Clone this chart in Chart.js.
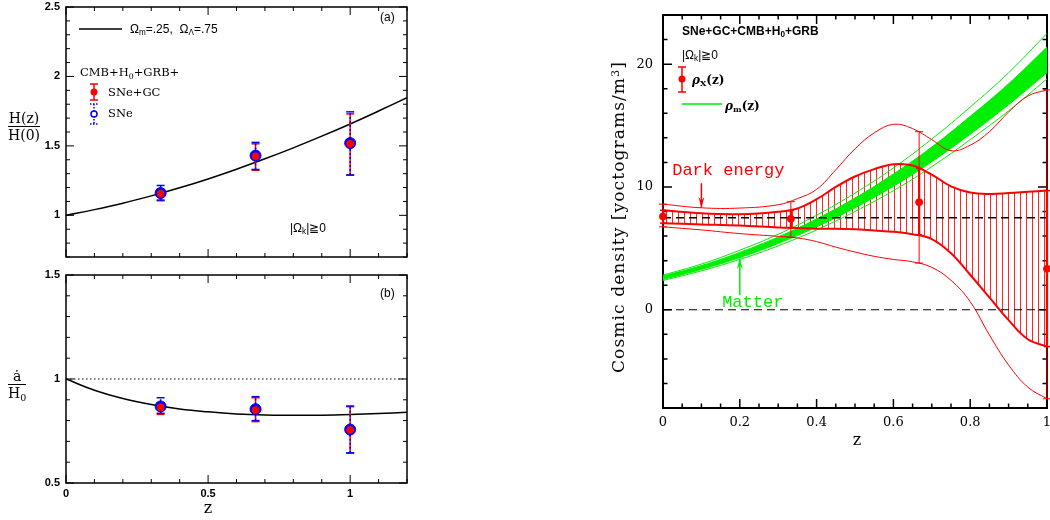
<!DOCTYPE html>
<html>
<head>
<meta charset="utf-8">
<script src="https://cdn.jsdelivr.net/npm/chart.js@4.4.1/dist/chart.umd.min.js"></script>
<style>
  html, body { margin: 0; padding: 0; background: #fff; }
  body { width: 1050px; height: 520px; position: relative; overflow: hidden;
         font-family: "Liberation Sans", Arial, sans-serif; color: #000; }
  canvas { position: absolute; }
  .t { position: absolute; white-space: nowrap; line-height: 1; transform: translateY(-50%); }
  .c { transform: translate(-50%, -50%); }
  .serif { font-family: "DejaVu Serif", serif; }
  sub { font-size: 68%; vertical-align: -0.3em; line-height: 0; }
  sup { font-size: 65%; vertical-align: 0.45em; line-height: 0; }
  .frac { position: absolute; text-align: center; line-height: 1.05; }
  .frac .den { border-top: 1px solid #000; padding-top: 1px; }
  .ytitle { position: absolute; white-space: nowrap; font-size: 17px; letter-spacing: 1.1px;
            transform: translate(-50%, -50%) rotate(-90deg); }
</style>
</head>
<body>
<canvas id="hubble" width="420" height="265" style="left:0;top:0"></canvas>
<canvas id="adot" width="420" height="258" style="left:0;top:262px"></canvas>
<canvas id="rho" width="450" height="460" style="left:600px;top:0"></canvas>

<!-- left panels text -->
<div class="t" style="left:380px;top:17px;font-size:12px">(a)</div>
<div class="t" style="left:130px;top:29px;font-size:12px">Ω<sub>m</sub>=.25,&nbsp; Ω<sub>Λ</sub>=.75</div>
<div class="t serif" style="left:80px;top:73px;font-size:11.5px">CMB+H<sub>0</sub>+GRB+</div>
<div class="t serif" style="left:108px;top:93px;font-size:11.5px">SNe+GC</div>
<div class="t serif" style="left:108px;top:114px;font-size:11.5px">SNe</div>
<div class="t" style="left:290px;top:228px;font-size:12px">|Ω<sub>k</sub>|≧0</div>
<div class="t" style="left:380px;top:293px;font-size:12px">(b)</div>
<div class="frac serif" style="left:8px;top:111px;font-size:14px"><div>H(z)</div><div class="den">H(0)</div></div>
<div class="frac serif" style="left:8px;top:369px;font-size:14px"><div>ȧ</div><div class="den">H<sub>0</sub></div></div>
<div class="t c serif" style="left:208px;top:508px;font-size:16px">z</div>

<!-- right panel text -->
<div class="t" style="left:682px;top:31px;font-size:12px;font-weight:bold">SNe+GC+CMB+H<sub>0</sub>+GRB</div>
<div class="t" style="left:682px;top:55px;font-size:12px">|Ω<sub>k</sub>|≧0</div>
<div class="t serif" style="left:692px;top:80px;font-size:12px;font-weight:bold"><i>ρ</i><sub>X</sub>(z)</div>
<div class="t serif" style="left:725px;top:106px;font-size:12px;font-weight:bold"><i>ρ</i><sub>m</sub>(z)</div>
<div class="ytitle serif" style="left:618px;top:217px">Cosmic density [yoctograms/m<sup>3</sup>]</div>
<div class="t c serif" style="left:857px;top:440px;font-size:16px">z</div>

<script>
(function () {
  "use strict";

  // ---- panels (a) and (b) ----
  var curveZ = [0, 0.1, 0.2, 0.3, 0.4, 0.5, 0.6, 0.7, 0.8, 0.9, 1.0, 1.1, 1.2];
  var hubbleCurve = [1, 1.041, 1.087, 1.140, 1.198, 1.262, 1.332, 1.407, 1.486, 1.570, 1.658, 1.751, 1.847];
  var adotCurve = [1, 0.946, 0.906, 0.877, 0.856, 0.842, 0.832, 0.827, 0.826, 0.826, 0.829, 0.834, 0.840];
  var unitLevel = 1;

  var binZ = [0.333, 0.667, 1.0];
  var hGc = [1.155, 1.425, 1.515];
  var hGcLo = [1.105, 1.325, 1.29];
  var hGcHi = [1.19, 1.515, 1.73];
  var hSne = [1.16, 1.43, 1.52];
  var hSneLo = [1.11, 1.33, 1.29];
  var hSneHi = [1.215, 1.525, 1.745];

  var aGc = [0.864, 0.851, 0.755];
  var aGcLo = [0.83, 0.795, 0.643];
  var aGcHi = [0.886, 0.91, 0.867];
  var aSne = [0.868, 0.855, 0.757];
  var aSneLo = [0.835, 0.80, 0.645];
  var aSneHi = [0.91, 0.915, 0.87];

  var zTicksLeft = [0, 0.5, 1];
  var zTickLabelsLeft = ["0", "0.5", "1"];
  var hTicks = [1, 1.5, 2, 2.5];
  var hTickLabels = ["1", "1.5", "2", "2.5"];
  var aTicks = [0.5, 1, 1.5];
  var aTickLabels = ["0.5", "1", "1.5"];

  // ---- right panel: cosmic density ----
  var matterZ = [0, 0.1, 0.2, 0.3, 0.4, 0.5, 0.6, 0.7, 0.8, 0.9, 1.0];
  var matterHi = [2.74, 3.6, 4.67, 5.92, 7.4, 9.1, 11.05, 13.25, 15.75, 18.4, 21.4];
  var matterLo = [2.46, 3.28, 4.25, 5.4, 6.75, 8.3, 10.05, 12.05, 14.3, 16.7, 19.3];
  var matterOutHi = [2.82, 3.72, 4.85, 6.15, 7.7, 9.5, 11.55, 13.9, 16.5, 19.3, 22.5];
  var matterOutLo = [2.38, 3.17, 4.1, 5.2, 6.5, 8.0, 9.7, 11.65, 13.85, 16.2, 18.8];

  var deZ = [0, 0.1, 0.2, 0.3, 0.35, 0.4, 0.45, 0.5, 0.55, 0.6, 0.65, 0.7, 0.75, 0.8, 0.85, 0.9, 0.95, 1.0];
  var deHi1 = [8.1, 7.85, 7.78, 7.98, 8.25, 9.0, 10.0, 10.85, 11.45, 11.85, 11.75, 11.0, 10.05, 9.55, 9.43, 9.5, 9.6, 9.7];
  var deLo1 = [7.05, 6.95, 6.85, 6.7, 6.65, 6.6, 6.6, 6.55, 6.45, 6.35, 6.15, 5.75, 4.6, 2.85, 1.0, -0.85, -2.4, -3.0];
  var deHi2 = [8.6, 8.3, 8.28, 8.55, 9.05, 9.8, 11.4, 13.1, 14.4, 15.1, 14.75, 13.85, 12.95, 13.4, 14.5, 16.1, 17.4, 17.9];
  var deLo2 = [6.75, 6.5, 6.2, 5.98, 5.85, 5.55, 5.1, 4.7, 4.35, 4.1, 3.9, 3.45, 2.4, 0.65, -2.05, -4.5, -6.3, -7.25];

  var rhoZ = [0, 0.333, 0.667, 1.0];
  var rhoX = [7.6, 7.4, 8.76, 3.33];
  var rhoX1Lo = [7.05, 6.65, 6.1, -3.0];
  var rhoX1Hi = [8.1, 8.07, 11.5, 9.7];
  var rhoX2Lo = [6.75, 5.9, 3.8, -7.25];
  var rhoX2Hi = [8.6, 8.8, 14.5, 17.9];
  var lambdaLevel = 7.5;
  var zeroLevel = 0;

  var zTicksRight = [0, 0.2, 0.4, 0.6, 0.8, 1];
  var zTickLabelsRight = ["0", "0.2", "0.4", "0.6", "0.8", "1"];
  var rhoTicks = [0, 10, 20];
  var rhoTickLabels = ["0", "10", "20"];

  var RED = "#ff0000", BLUE = "#0000ff", GREEN = "#00ee00";

  function pts(xs, ys) {
    return xs.map(function (x, i) { return { x: x, y: ys[i] }; });
  }
  function bars(xs, lo, hi) {
    var out = [];
    xs.forEach(function (x, i) {
      out.push({ x: x, y: lo[i] }, { x: x, y: hi[i] }, { x: x, y: null });
    });
    return out;
  }
  function level(x0, x1, v) {
    return [{ x: x0, y: v }, { x: x1, y: v }];
  }
  function range(a, b, step) {
    var out = [];
    var n = Math.round((b - a) / step);
    for (var i = 0; i <= n; i++) out.push(Math.round((a + i * step) * 1000) / 1000);
    return out;
  }
  function labeller(vals, labels) {
    return function (v) {
      for (var i = 0; i < vals.length; i++) {
        if (Math.abs(v - vals[i]) < 1e-6) return labels[i];
      }
      return "";
    };
  }

  function axis(min, max, step, vals, labels, font, pad, size, isY, showLabels) {
    var minor = range(min, max, step);
    return {
      type: "linear",
      min: min,
      max: max,
      grid: { display: false, drawTicks: false },
      border: { display: false },
      afterBuildTicks: function (s) {
        s.ticks = minor.map(function (v) { return { value: v }; });
      },
      ticks: {
        display: showLabels,
        autoSkip: false,
        maxRotation: 0,
        padding: pad,
        color: "#000",
        font: font,
        callback: labeller(vals, labels),
      },
      afterFit: function (s) {
        if (isY) s.width = size;
        else s.height = size;
        s.paddingLeft = 0;
        s.paddingRight = 0;
        s.paddingTop = 0;
        s.paddingBottom = 0;
      },
    };
  }

  // frame with inward ticks on all four sides
  function drawFrame(chart, opts) {
    var ctx = chart.ctx, a = chart.chartArea;
    var x = chart.scales.x, y = chart.scales.y;
    ctx.save();
    ctx.strokeStyle = "#000";
    ctx.lineWidth = opts.tickWidth;
    ctx.beginPath();
    x.ticks.forEach(function (t) {
      var px = x.getPixelForValue(t.value);
      var len = t.label !== "" ? opts.major : opts.minor;
      ctx.moveTo(px, a.bottom); ctx.lineTo(px, a.bottom - len);
      ctx.moveTo(px, a.top); ctx.lineTo(px, a.top + len);
    });
    y.ticks.forEach(function (t) {
      var py = y.getPixelForValue(t.value);
      var len = t.label !== "" ? opts.major : opts.minor;
      ctx.moveTo(a.left, py); ctx.lineTo(a.left + len, py);
      ctx.moveTo(a.right, py); ctx.lineTo(a.right - len, py);
    });
    ctx.stroke();
    ctx.lineWidth = opts.width;
    ctx.strokeRect(a.left, a.top, a.right - a.left, a.bottom - a.top);
    ctx.restore();
  }

  var frameTicks = {
    id: "frameTicks",
    beforeDatasetsDraw: function (chart, args, opts) {
      if (opts.under) drawFrame(chart, opts);
    },
    afterDraw: function (chart, args, opts) {
      if (!opts.under) drawFrame(chart, opts);
    },
  };

  // legend keys
  var keyGlyphs = {
    id: "keyGlyphs",
    afterDraw: function (chart, args, opts) {
      var ctx = chart.ctx;
      (opts.items || []).forEach(function (k) {
        ctx.save();
        ctx.strokeStyle = k.color;
        ctx.fillStyle = k.color;
        ctx.lineWidth = k.width || 1.5;
        if (k.dash) ctx.setLineDash(k.dash);
        ctx.beginPath();
        if (k.kind === "line") {
          ctx.moveTo(k.x1, k.y); ctx.lineTo(k.x2, k.y); ctx.stroke();
        } else if (k.kind === "bar") {
          ctx.moveTo(k.x, k.y1); ctx.lineTo(k.x, k.y2);
          ctx.moveTo(k.x - k.cap, k.y1); ctx.lineTo(k.x + k.cap, k.y1);
          ctx.moveTo(k.x - k.cap, k.y2); ctx.lineTo(k.x + k.cap, k.y2);
          ctx.stroke();
        } else if (k.kind === "dot") {
          ctx.arc(k.x, k.y, k.r, 0, Math.PI * 2); ctx.fill();
        } else if (k.kind === "ring") {
          ctx.fillStyle = "#fff";
          ctx.arc(k.x, k.y, k.r, 0, Math.PI * 2); ctx.fill(); ctx.stroke();
        }
        ctx.restore();
      });
    },
  };

  // labelled arrows inside the density panel, placed in data units
  var notes = {
    id: "notes",
    afterDatasetsDraw: function (chart, args, opts) {
      var ctx = chart.ctx, x = chart.scales.x, y = chart.scales.y;
      (opts.items || []).forEach(function (n) {
        ctx.save();
        ctx.fillStyle = n.color;
        ctx.strokeStyle = n.color;
        ctx.font = "17px 'Liberation Mono', monospace";
        ctx.textBaseline = "middle";
        ctx.fillText(n.text, x.getPixelForValue(n.z), y.getPixelForValue(n.v));
        var ax = x.getPixelForValue(n.arrowZ);
        var y0 = y.getPixelForValue(n.from), y1 = y.getPixelForValue(n.to);
        var dir = y1 > y0 ? -1 : 1;
        ctx.lineWidth = 1.5;
        ctx.beginPath();
        ctx.moveTo(ax, y0); ctx.lineTo(ax, y1);
        ctx.stroke();
        ctx.beginPath();
        ctx.moveTo(ax, y1);
        ctx.lineTo(ax - 3, y1 + dir * 11);
        ctx.lineTo(ax, y1 + dir * 7);
        ctx.lineTo(ax + 3, y1 + dir * 11);
        ctx.closePath();
        ctx.fill();
        ctx.restore();
      });
    },
  };

  var boldTick = { family: "'Liberation Sans', Arial, sans-serif", size: 11, weight: "bold" };
  var serifTick = { family: "'DejaVu Serif', serif", size: 13 };

  function errSet(data, color, dash, order) {
    return {
      data: data,
      showLine: true,
      borderColor: color,
      borderWidth: 1.5,
      borderDash: dash || [],
      pointStyle: "line",
      pointRadius: 4,
      pointBorderWidth: 1.5,
      pointBorderColor: color,
      spanGaps: false,
      clip: false,
      order: order,
    };
  }

  function leftConfig(curve, extra, gc, gcLo, gcHi, sne, sneLo, sneHi, yAxis, xAxis, padTop, items) {
    var sets = [
      { data: pts(curveZ, curve), borderColor: "#000", borderWidth: 1.5, pointRadius: 0, tension: 0.4, order: 50 },
      errSet(bars(binZ, gcLo, gcHi), RED, null, 40),
      errSet(bars(binZ, sneLo, sneHi), BLUE, [2, 2], 30),
      { data: pts(binZ, sne), showLine: false, pointRadius: 5.5, pointBackgroundColor: BLUE,
        pointBorderColor: BLUE, pointBorderWidth: 1, clip: false, order: 20 },
      { data: pts(binZ, gc), showLine: false, pointRadius: 3.5, pointBackgroundColor: RED,
        pointBorderColor: RED, pointBorderWidth: 1, clip: false, order: 10 },
    ];
    if (extra) sets.push(extra);
    return {
      type: "line",
      data: { datasets: sets },
      options: {
        responsive: false,
        animation: false,
        events: [],
        layout: { autoPadding: false, padding: { top: padTop, right: 13, bottom: 0, left: 0 } },
        plugins: {
          legend: { display: false },
          tooltip: { enabled: false },
          frameTicks: { width: 1.5, tickWidth: 1, major: 8, minor: 4 },
          keyGlyphs: { items: items },
        },
        scales: { x: xAxis, y: yAxis },
      },
      plugins: [frameTicks, keyGlyphs],
    };
  }

  new Chart(document.getElementById("hubble"), leftConfig(
    hubbleCurve, null, hGc, hGcLo, hGcHi, hSne, hSneLo, hSneHi,
    axis(0.7, 2.5, 0.1, hTicks, hTickLabels, boldTick, 6, 66, true, true),
    axis(0, 1.2, 0.1, zTicksLeft, zTickLabelsLeft, boldTick, 4, 8, false, false),
    7,
    [
      { kind: "line", x1: 79, x2: 122, y: 29, color: "#000" },
      { kind: "bar", x: 94, y1: 84, y2: 100, cap: 4, color: RED },
      { kind: "dot", x: 94, y: 92, r: 3.5, color: RED },
      { kind: "bar", x: 94, y1: 104, y2: 124, cap: 4, color: BLUE, dash: [1.5, 1.5] },
      { kind: "ring", x: 94, y: 114, r: 3, color: BLUE },
    ]
  ));

  new Chart(document.getElementById("adot"), leftConfig(
    adotCurve,
    { data: level(0, 1.2, unitLevel), borderColor: "#000", borderWidth: 1, borderDash: [1.5, 2.5], pointRadius: 0, order: 60 },
    aGc, aGcLo, aGcHi, aSne, aSneLo, aSneHi,
    axis(0.5, 1.5, 0.1, aTicks, aTickLabels, boldTick, 6, 66, true, true),
    axis(0, 1.2, 0.1, zTicksLeft, zTickLabelsLeft, boldTick, 4, 37, false, true),
    13,
    []
  ));

  var rhoCanvas = document.getElementById("rho");
  var hatch = document.createElement("canvas");
  hatch.width = 6;
  hatch.height = 6;
  var hc = hatch.getContext("2d");
  hc.fillStyle = "rgba(255,0,0,0.85)";
  hc.fillRect(0, 0, 1, 6);
  var hatchPattern = rhoCanvas.getContext("2d").createPattern(hatch, "repeat");

  function curve(xs, ys, color, width, order, extra) {
    var d = { data: pts(xs, ys), borderColor: color, borderWidth: width, pointRadius: 0,
      tension: 0.4, fill: false, order: order };
    for (var k in extra || {}) d[k] = extra[k];
    return d;
  }

  new Chart(rhoCanvas, {
    type: "line",
    data: {
      datasets: [
        curve(deZ, deHi1, RED, 0, 100, { fill: "+1", backgroundColor: hatchPattern }),
        curve(deZ, deLo1, RED, 0, 101),
        curve(matterZ, matterHi, GREEN, 1, 90, { fill: "+1", backgroundColor: GREEN }),
        curve(matterZ, matterLo, GREEN, 1, 91),
        curve(matterZ, matterOutHi, GREEN, 1, 80),
        curve(matterZ, matterOutLo, GREEN, 1, 80),
        curve(deZ, deHi1, RED, 2, 60),
        curve(deZ, deLo1, RED, 2, 60),
        curve(deZ, deHi2, RED, 1, 61),
        curve(deZ, deLo2, RED, 1, 61),
        { data: level(0, 1, lambdaLevel), borderColor: "#000", borderWidth: 1.5, borderDash: [8, 5], pointRadius: 0, order: 50 },
        { data: level(0, 1, zeroLevel), borderColor: "#000", borderWidth: 1.2, borderDash: [8, 5], pointRadius: 0, order: 50 },
        (function () { var e = errSet(bars(rhoZ, rhoX2Lo, rhoX2Hi), RED, null, 20); e.borderWidth = 1; e.pointBorderWidth = 1; e.pointRadius = 4; return e; })(),
        (function () { var e = errSet(bars(rhoZ, rhoX1Lo, rhoX1Hi), RED, null, 19); e.borderWidth = 2.2; e.pointRadius = 3; return e; })(),
        { data: pts(rhoZ, rhoX), showLine: false, pointRadius: 3.5, pointBackgroundColor: RED,
          pointBorderColor: RED, clip: false, order: 10 },
      ],
    },
    options: {
      responsive: false,
      animation: false,
      events: [],
      layout: { autoPadding: false, padding: { top: 15, right: 3, bottom: 0, left: 0 } },
      plugins: {
        legend: { display: false },
        tooltip: { enabled: false },
        frameTicks: { width: 2, tickWidth: 1.5, major: 9, minor: 4.5, under: true },
        keyGlyphs: {
          items: [
            { kind: "bar", x: 82, y1: 67, y2: 92, cap: 4, color: RED },
            { kind: "dot", x: 82, y: 79, r: 3.5, color: RED },
            { kind: "line", x1: 82, x2: 122, y: 104, color: GREEN, width: 1.5 },
          ],
        },
        notes: {
          items: [
            { text: "Dark energy", z: 0.024, v: 11.3, arrowZ: 0.1, from: 10.3, to: 8.3, color: RED },
            { text: "Matter", z: 0.154, v: 0.57, arrowZ: 0.2, from: 1.2, to: 4.2, color: GREEN },
          ],
        },
      },
      scales: {
        x: axis(0, 1, 0.05, zTicksRight, zTickLabelsRight, serifTick, 7, 52, false, true),
        y: axis(-8, 24, 2, rhoTicks, rhoTickLabels, serifTick, 10, 63, true, true),
      },
    },
    plugins: [frameTicks, keyGlyphs, notes],
  });
})();
</script>
</body>
</html>
